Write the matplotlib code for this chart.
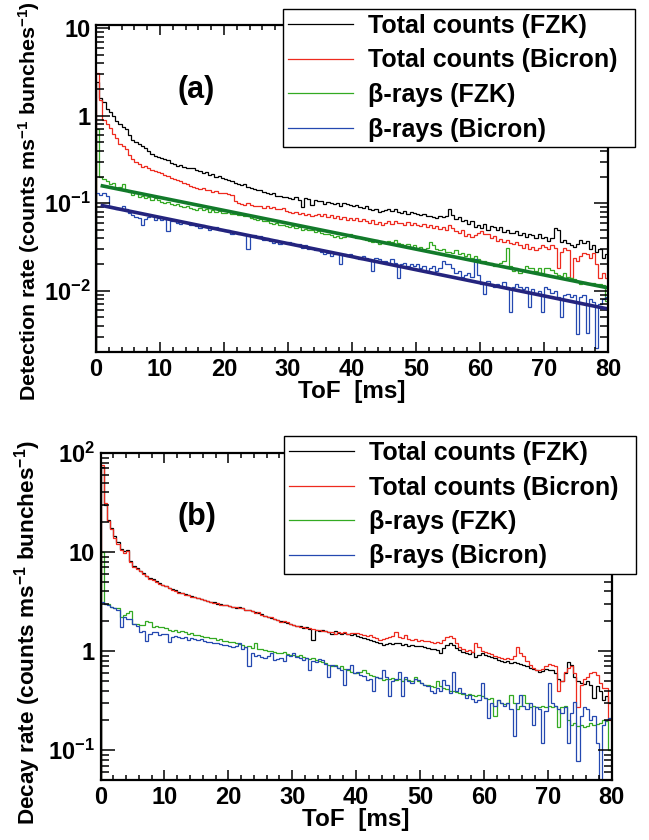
import numpy as np
import matplotlib
matplotlib.use("Agg")
from matplotlib import pyplot as plt
from matplotlib.ticker import FuncFormatter, LogLocator, NullFormatter, MultipleLocator

plt.rcParams['font.family'] = ['Liberation Sans', 'DejaVu Sans']
plt.rcParams['font.weight'] = 'bold'
plt.rcParams['mathtext.fontset'] = 'custom'
plt.rcParams['mathtext.rm'] = 'Liberation Sans:bold'
plt.rcParams['mathtext.bf'] = 'Liberation Sans:bold'
plt.rcParams['mathtext.default'] = 'rm'

# ToF bins, 0.5 ms wide, 0..80 ms
bin_edges = np.linspace(0, 80, 161)

# ---- panel (a) : detection rate ----
a_tot_fzk = [
    2.4, 1.6, 1.45, 1.2, 1.1, 1.0, 0.88, 0.8, 0.74, 0.7,
    0.6, 0.53, 0.5, 0.47, 0.45, 0.43, 0.4, 0.37, 0.35, 0.34,
    0.33, 0.32, 0.31, 0.29, 0.28, 0.27, 0.275, 0.26, 0.25, 0.255,
    0.25, 0.24, 0.235, 0.22, 0.225, 0.21, 0.215, 0.2, 0.205, 0.195,
    0.19, 0.185, 0.18, 0.17, 0.165, 0.16, 0.165, 0.155, 0.15, 0.145,
    0.142, 0.14, 0.135, 0.132, 0.128, 0.13, 0.122, 0.12, 0.117, 0.118,
    0.114, 0.112, 0.118, 0.108, 0.09, 0.115, 0.113, 0.095, 0.11, 0.106,
    0.105, 0.098, 0.104, 0.1, 0.097, 0.102, 0.092, 0.1, 0.097, 0.095,
    0.093, 0.095, 0.09, 0.088, 0.092, 0.086, 0.084, 0.087, 0.08, 0.082,
    0.083, 0.086, 0.082, 0.085, 0.08, 0.078, 0.081, 0.076, 0.079, 0.077,
    0.075, 0.073, 0.076, 0.071, 0.072, 0.07, 0.068, 0.072, 0.069, 0.071,
    0.085, 0.074, 0.066, 0.07, 0.062, 0.064, 0.058, 0.062, 0.054, 0.056,
    0.052, 0.058, 0.05, 0.055, 0.054, 0.049, 0.053, 0.047, 0.05, 0.046,
    0.046, 0.048, 0.043, 0.046, 0.041, 0.045, 0.043, 0.04, 0.044, 0.04,
    0.041, 0.037, 0.04, 0.052, 0.05, 0.036, 0.038, 0.035, 0.033, 0.032,
    0.034, 0.038, 0.035, 0.037, 0.03, 0.033, 0.028, 0.03, 0.024, 0.026]

a_tot_bic = [
    3.1, 1.5, 0.9, 0.8, 0.72, 0.62, 0.55, 0.47, 0.45, 0.42,
    0.36, 0.32, 0.3, 0.28, 0.26, 0.265, 0.25, 0.24, 0.235, 0.225,
    0.22, 0.21, 0.205, 0.195, 0.19, 0.185, 0.18, 0.17, 0.165, 0.158,
    0.155, 0.15, 0.145, 0.148, 0.14, 0.142, 0.135, 0.138, 0.132, 0.13,
    0.13, 0.128, 0.125, 0.105, 0.1, 0.098, 0.096, 0.1, 0.095, 0.093,
    0.094, 0.092, 0.089, 0.093, 0.088, 0.09, 0.087, 0.085, 0.088, 0.082,
    0.08, 0.077, 0.079, 0.075, 0.077, 0.073, 0.076, 0.072, 0.074, 0.075,
    0.072, 0.075, 0.07, 0.073, 0.068, 0.071, 0.066, 0.069, 0.065, 0.067,
    0.064, 0.068, 0.062, 0.066, 0.063, 0.06, 0.064, 0.058, 0.061, 0.056,
    0.06, 0.062, 0.058, 0.063, 0.059, 0.06, 0.057, 0.061, 0.056, 0.059,
    0.057, 0.055, 0.058, 0.053, 0.056, 0.052, 0.055, 0.051, 0.054, 0.05,
    0.056, 0.052, 0.048, 0.046, 0.049, 0.042, 0.045, 0.041, 0.043, 0.046,
    0.048, 0.044, 0.045, 0.04, 0.042, 0.037, 0.039, 0.036, 0.038, 0.035,
    0.034, 0.036, 0.033, 0.031, 0.034, 0.03, 0.032, 0.029, 0.031, 0.033,
    0.032, 0.03, 0.033, 0.031, 0.018, 0.028, 0.031, 0.029, 0.014, 0.024,
    0.022, 0.025, 0.027, 0.026, 0.024, 0.027, 0.02, 0.014, 0.016, 0.014]

a_beta_fzk = [
    0.7, 0.2, 0.19, 0.18, 0.165, 0.17, 0.148, 0.152, 0.168, 0.14,
    0.135, 0.124, 0.13, 0.118, 0.12, 0.114, 0.118, 0.11, 0.115, 0.108,
    0.104, 0.1, 0.103, 0.097, 0.096, 0.099, 0.093, 0.09, 0.092, 0.088,
    0.087, 0.084, 0.089, 0.083, 0.085, 0.08, 0.083, 0.079, 0.081, 0.078,
    0.077, 0.079, 0.075, 0.076, 0.073, 0.074, 0.071, 0.072, 0.068, 0.066,
    0.065, 0.066, 0.062, 0.063, 0.06, 0.058, 0.059, 0.056, 0.057, 0.055,
    0.054, 0.055, 0.052, 0.053, 0.05, 0.051, 0.049, 0.05, 0.047, 0.048,
    0.046, 0.044, 0.045, 0.043, 0.041, 0.042, 0.04, 0.041, 0.043, 0.044,
    0.042, 0.04, 0.041, 0.039, 0.038, 0.037, 0.036, 0.038, 0.034, 0.036,
    0.035, 0.037, 0.036, 0.038, 0.035, 0.034, 0.033, 0.034, 0.032, 0.033,
    0.031, 0.032, 0.03, 0.031, 0.036, 0.033, 0.03, 0.029, 0.03, 0.028,
    0.028, 0.027, 0.029, 0.026, 0.027, 0.025, 0.026, 0.024, 0.025, 0.023,
    0.021, 0.022, 0.02, 0.021, 0.019, 0.02, 0.021, 0.022, 0.031, 0.019,
    0.017, 0.018, 0.016, 0.017, 0.019, 0.018, 0.018, 0.017, 0.018, 0.016,
    0.018, 0.018, 0.0175, 0.016, 0.015, 0.0146, 0.016, 0.0145, 0.014, 0.0135,
    0.013, 0.012, 0.0125, 0.0118, 0.012, 0.0122, 0.0118, 0.012, 0.0115, 0.0077]

a_beta_bic = [
    0.13, 0.125, 0.13, 0.12, 0.092, 0.09, 0.087, 0.088, 0.092, 0.085,
    0.078, 0.074, 0.07, 0.068, 0.057, 0.066, 0.07, 0.071, 0.065, 0.067,
    0.064, 0.066, 0.048, 0.063, 0.062, 0.06, 0.058, 0.061, 0.059, 0.057,
    0.057, 0.055, 0.052, 0.056, 0.054, 0.05, 0.052, 0.053, 0.049, 0.05,
    0.048, 0.049, 0.045, 0.047, 0.044, 0.045, 0.043, 0.03, 0.042, 0.043,
    0.041, 0.042, 0.038, 0.04, 0.037, 0.035, 0.038, 0.034, 0.036, 0.035,
    0.036, 0.035, 0.033, 0.034, 0.031, 0.033, 0.03, 0.031, 0.029, 0.03,
    0.028, 0.026, 0.027, 0.025, 0.026, 0.027, 0.02, 0.026, 0.025, 0.026,
    0.025, 0.024, 0.023, 0.025, 0.024, 0.023, 0.0168, 0.024, 0.023, 0.022,
    0.022, 0.021, 0.023, 0.021, 0.014, 0.02, 0.021, 0.019, 0.02, 0.019,
    0.02, 0.018, 0.019, 0.017, 0.018, 0.019, 0.017, 0.018, 0.022, 0.02,
    0.02, 0.018, 0.016, 0.017, 0.0145, 0.015, 0.016, 0.0145, 0.023, 0.015,
    0.012, 0.0091, 0.013, 0.012, 0.011, 0.012, 0.011, 0.0125, 0.011, 0.0057,
    0.011, 0.012, 0.011, 0.0105, 0.011, 0.0065, 0.0105, 0.0095, 0.01, 0.0057,
    0.011, 0.0105, 0.0095, 0.01, 0.0085, 0.005, 0.009, 0.0092, 0.0085, 0.009,
    0.0032, 0.0085, 0.009, 0.0033, 0.008, 0.0075, 0.0022, 0.007, 0.0081, 0.0085]

# exponential fits of the beta-ray curves (end points)
fit_t = [1.0, 80.0]
fit_fzk = [0.158, 0.0108]
fit_bic = [0.094, 0.0062]

# ---- panel (b) : decay rate ----
b_tot_fzk = [
    72, 30, 21, 17.5, 14.5, 12.5, 10.8, 10.2, 10.5, 8.2,
    7.2, 6.9, 6.5, 6.1, 5.7, 5.5, 5.3, 5.1, 4.9, 4.7,
    4.5, 4.35, 4.2, 4.1, 3.95, 3.85, 3.75, 3.65, 3.6, 3.5,
    3.45, 3.35, 3.3, 3.2, 3.1, 3.12, 3.0, 2.98, 2.95, 2.9,
    2.88, 2.82, 2.75, 2.78, 2.7, 2.62, 2.6, 2.52, 2.5, 2.45,
    2.35, 2.25, 2.22, 2.18, 2.12, 2.05, 2.0, 1.98, 1.92, 1.88,
    1.85, 1.78, 1.8, 1.72, 1.75, 1.68, 1.3, 1.64, 1.6, 1.62,
    1.58, 1.55, 1.5, 1.58, 1.52, 1.48, 1.54, 1.5, 1.45, 1.48,
    1.42, 1.38, 1.35, 1.32, 1.3, 1.28, 1.25, 1.2, 1.16, 1.18,
    1.2, 1.18, 1.22, 1.2, 1.16, 1.18, 1.14, 1.15, 1.12, 1.13,
    1.12, 1.1, 1.08, 1.06, 1.05, 1.02, 0.96, 1.08, 1.15, 1.2,
    1.15, 1.08, 1.02, 0.98, 0.96, 0.94, 0.98, 0.87, 0.92, 0.96,
    0.92, 0.9, 0.88, 0.85, 0.82, 0.8, 0.78, 0.8, 0.76, 0.78,
    0.76, 0.74, 0.72, 0.7, 0.68, 0.66, 0.64, 0.62, 0.63, 0.66,
    0.65, 0.64, 0.6, 0.52, 0.5, 0.6, 0.78, 0.72, 0.55, 0.5,
    0.48, 0.47, 0.5, 0.45, 0.34, 0.44, 0.4, 0.32, 0.35, 0.3]

b_tot_bic = [
    76, 31, 20.5, 17, 14, 12, 10.5, 9.8, 10.2, 8.0,
    7.1, 6.8, 6.4, 6.0, 5.8, 5.4, 5.2, 5.0, 4.8, 4.6,
    4.5, 4.3, 4.15, 4.05, 3.9, 3.85, 3.7, 3.68, 3.55, 3.5,
    3.4, 3.38, 3.25, 3.22, 3.12, 3.05, 3.05, 2.95, 2.9, 2.92,
    2.85, 2.8, 2.78, 2.7, 2.72, 2.6, 2.62, 2.55, 2.45, 2.48,
    2.3, 2.28, 2.2, 2.2, 2.1, 2.08, 1.98, 2.0, 1.95, 1.9,
    1.82, 1.8, 1.75, 1.76, 1.72, 1.7, 1.66, 1.62, 1.65, 1.6,
    1.6, 1.57, 1.55, 1.5, 1.56, 1.52, 1.55, 1.5, 1.52, 1.54,
    1.52, 1.48, 1.46, 1.42, 1.45, 1.38, 1.35, 1.3, 1.32, 1.35,
    1.38, 1.42, 1.55, 1.4, 1.36, 1.45, 1.32, 1.3, 1.34, 1.28,
    1.3, 1.26, 1.28, 1.24, 1.22, 1.25, 1.2, 1.3, 1.38, 1.42,
    1.35, 1.2, 1.1, 1.05, 1.0, 1.02, 0.98, 1.2, 1.1, 1.0,
    0.98, 0.95, 0.93, 0.9, 0.88, 0.86, 0.84, 0.86, 0.83, 0.9,
    1.1, 0.96, 0.9, 0.8, 0.72, 0.68, 0.65, 0.64, 0.66, 0.7,
    0.74, 0.73, 0.7, 0.4, 0.5, 0.62, 0.68, 0.7, 0.6, 0.27,
    0.45, 0.52, 0.55, 0.6, 0.62, 0.58, 0.48, 0.42, 0.42, 0.2]

b_beta_fzk = [
    10, 3.0, 3.0, 2.8, 2.75, 2.7, 2.2, 2.3, 2.4, 2.55,
    1.9, 1.88, 1.85, 1.82, 2.0, 1.95, 1.76, 1.8, 1.74, 1.76,
    1.7, 1.65, 1.58, 1.62, 1.55, 1.6, 1.56, 1.5, 1.52, 1.45,
    1.45, 1.42, 1.4, 1.38, 1.35, 1.36, 1.3, 1.32, 1.28, 1.26,
    1.24, 1.25, 1.2, 1.18, 1.15, 1.1, 1.12, 1.08, 1.2, 1.06,
    1.04, 1.02, 1.0, 1.01, 0.98, 0.96, 0.95, 0.97, 0.93, 0.92,
    0.92, 0.9, 0.91, 0.88, 0.86, 0.84, 0.85, 0.82, 0.8, 0.78,
    0.76, 0.72, 0.7, 0.72, 0.68, 0.7, 0.66, 0.64, 0.62, 0.6,
    0.6, 0.62, 0.64, 0.6, 0.58, 0.56, 0.55, 0.53, 0.51, 0.52,
    0.52, 0.53, 0.51, 0.52, 0.5, 0.52, 0.51, 0.5, 0.55, 0.5,
    0.48, 0.46, 0.45, 0.44, 0.43, 0.5, 0.44, 0.42, 0.41, 0.4,
    0.4, 0.39, 0.38, 0.37, 0.36, 0.37, 0.36, 0.35, 0.36, 0.35,
    0.34, 0.33, 0.34, 0.22, 0.32, 0.3, 0.29, 0.3, 0.36, 0.3,
    0.26, 0.28, 0.36, 0.3, 0.27, 0.28, 0.275, 0.27, 0.28, 0.275,
    0.28, 0.27, 0.28, 0.17, 0.27, 0.28, 0.2, 0.18, 0.19, 0.175,
    0.18, 0.17, 0.175, 0.19, 0.18, 0.185, 0.19, 0.2, 0.195, 0.1]

b_beta_bic = [
    3.1, 3.0, 2.9, 2.8, 2.7, 2.6, 1.76, 2.2, 2.1, 2.1,
    1.9, 1.8, 1.56, 1.6, 1.28, 1.5, 1.56, 1.55, 1.45, 1.5,
    1.48, 1.24, 1.4, 1.42, 1.38, 1.36, 1.4, 1.3, 1.35, 1.34,
    1.3, 1.32, 1.28, 1.25, 1.24, 1.2, 1.22, 1.18, 1.15, 1.16,
    1.14, 1.1, 1.12, 1.2, 1.05, 1.1, 0.7, 0.95, 0.9, 0.92,
    0.88, 0.86, 0.9, 0.95, 0.82, 0.84, 0.86, 0.8, 0.92, 0.9,
    0.95, 0.88, 0.85, 0.82, 0.86, 0.64, 0.8, 0.78, 0.84, 0.82,
    0.75, 0.55, 0.72, 0.7, 0.68, 0.64, 0.46, 0.66, 0.72, 0.6,
    0.62, 0.58, 0.56, 0.51, 0.52, 0.4, 0.55, 0.54, 0.65, 0.55,
    0.35, 0.5, 0.52, 0.62, 0.35, 0.55, 0.5, 0.48, 0.52, 0.51,
    0.48, 0.46, 0.44, 0.4, 0.38, 0.42, 0.4, 0.51, 0.45, 0.38,
    0.62, 0.4, 0.42, 0.38, 0.34, 0.36, 0.33, 0.31, 0.32, 0.48,
    0.34, 0.21, 0.3, 0.28, 0.32, 0.3, 0.28, 0.3, 0.26, 0.14,
    0.3, 0.36, 0.28, 0.26, 0.3, 0.18, 0.27, 0.26, 0.118, 0.25,
    0.48, 0.3, 0.28, 0.26, 0.24, 0.27, 0.118, 0.24, 0.31, 0.077,
    0.22, 0.27, 0.26, 0.2, 0.22, 0.118, 0.04, 0.18, 0.2, 0.21]

labels = ["Total counts (FZK)", "Total counts (Bicron)", "β-rays (FZK)", "β-rays (Bicron)"]
colors = ["black", "#ee2a1e", "#33aa22", "#2448b0"]
fit_colors = ["#127a2a", "#24247e"]


def log_label(v, pos):
    e = int(round(np.log10(v)))
    if e == 0:
        return "1"
    if e == 1:
        return "10"
    return "10$^{%d}$" % e


def style_axes(ax, ylo, yhi, ylabel, ysize):
    ax.set_xlim(0, 80)
    ax.set_yscale("log")
    ax.set_ylim(ylo, yhi)
    ax.xaxis.set_major_locator(MultipleLocator(10))
    ax.xaxis.set_minor_locator(MultipleLocator(2))
    ax.yaxis.set_major_locator(LogLocator(base=10))
    ax.yaxis.set_minor_locator(LogLocator(base=10, subs=np.arange(2, 10)))
    ax.yaxis.set_major_formatter(FuncFormatter(log_label))
    ax.yaxis.set_minor_formatter(NullFormatter())
    ax.tick_params(axis="both", which="both", direction="in", top=True, right=True,
                   labelsize=17, width=1.1, pad=4)
    ax.tick_params(axis="x", which="major", length=7)
    ax.tick_params(axis="x", which="minor", length=3.5)
    ax.tick_params(axis="y", which="major", length=10)
    ax.tick_params(axis="y", which="minor", length=5.5)
    for lab in ax.get_xticklabels() + ax.get_yticklabels():
        lab.set_fontweight("bold")
    for s in ax.spines.values():
        s.set_linewidth(1.6)
    ax.set_xlabel("ToF  [ms]", fontsize=17.5, fontweight="bold")
    ax.set_ylabel(ylabel, fontsize=ysize, fontweight="bold")


fig = plt.figure(figsize=(6.49, 8.40), dpi=100)
ax1 = fig.add_axes([0.1479, 0.5810, 0.7889, 0.3893])
ax2 = fig.add_axes([0.1549, 0.0714, 0.7874, 0.3893])

for vals, c, lab in zip([a_tot_fzk, a_tot_bic, a_beta_fzk, a_beta_bic], colors, labels):
    ax1.stairs(vals, bin_edges, baseline=1e-5, color=c, lw=0.9, label=lab)
ax1.plot(fit_t, fit_fzk, color=fit_colors[0], lw=2.6)
ax1.plot(fit_t, fit_bic, color=fit_colors[1], lw=2.6)
style_axes(ax1, 0.002, 10.9, "Detection rate (counts ms$^{-1}$ bunches$^{-1}$)", 15.4)
ax1.text(0.195, 0.80, "(a)", transform=ax1.transAxes, fontsize=22, fontweight="bold",
         ha="center", va="center")

for vals, c, lab in zip([b_tot_fzk, b_tot_bic, b_beta_fzk, b_beta_bic], colors, labels):
    ax2.stairs(vals, bin_edges, baseline=1e-5, color=c, lw=0.9, label=lab)
style_axes(ax2, 0.05, 100, "Decay rate (counts ms$^{-1}$ bunches$^{-1}$)", 16.2)
ax2.text(0.189, 0.804, "(b)", transform=ax2.transAxes, fontsize=22, fontweight="bold",
         ha="center", va="center")

ax1.xaxis.set_label_coords(0.5, -0.085)
ax2.xaxis.set_label_coords(0.5, -0.085)
ax1.yaxis.set_label_coords(-0.105, 0.46)
ax2.yaxis.set_label_coords(-0.112, 0.45)

legend_boxes = [(283, 9), (284, 436)]
for ax, (lx, ly) in zip([ax1, ax2], legend_boxes):
    h = [plt.Line2D([], [], color=c, lw=0.9) for c in colors]
    leg = ax.legend(h, labels, loc="upper left", bbox_to_anchor=(lx / 649, 1 - ly / 840, 352 / 649, 0),
                    bbox_transform=fig.transFigure, mode="expand", fancybox=False,
                    framealpha=1, edgecolor="black", prop={"size": 18, "weight": "bold"},
                    handlelength=2.6, handletextpad=0.6, borderpad=0.2, labelspacing=0.42,
                    borderaxespad=0)
    leg.get_frame().set_linewidth(1.0)

fig.savefig("out.png", dpi=100)
